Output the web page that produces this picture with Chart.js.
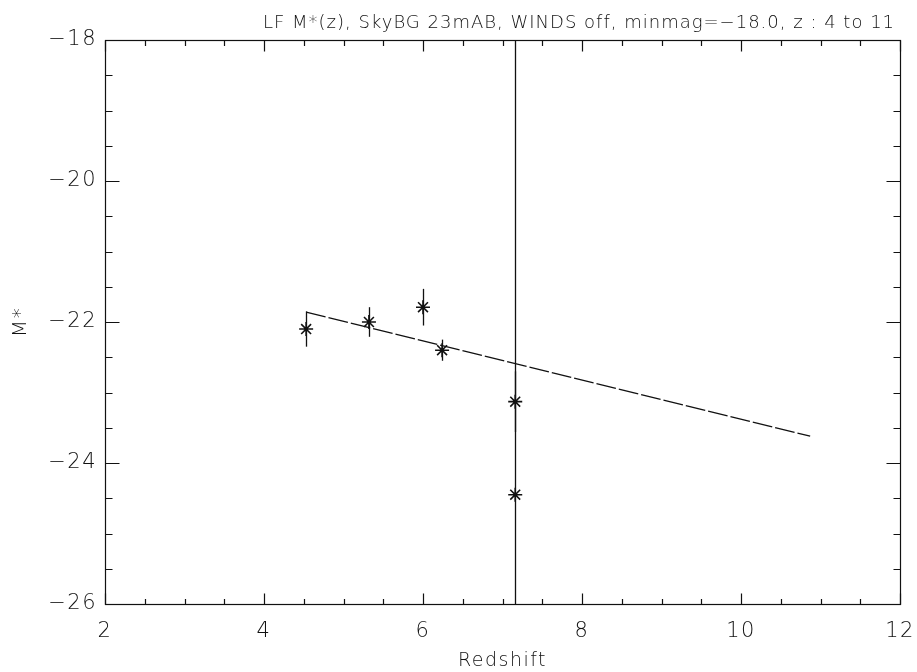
<!DOCTYPE html>
<html>
<head>
<meta charset="utf-8">
<title>LF M*(z)</title>
<script src="https://cdn.jsdelivr.net/npm/chart.js@4.4.0/dist/chart.umd.min.js"></script>
<style>
  body { margin: 0; background: #fff; }
  #wrap { width: 917px; height: 672px; }
</style>
</head>
<body>
<div id="wrap"><canvas id="lfChart"></canvas></div>
<script>
// M* per redshift bin, with 1-sigma errors
const redshift = [4.53, 5.32, 6.00, 6.24, 7.16, 7.16];
const mStar = [-22.10, -22.00, -21.79, -22.40, -23.13, -24.45];
const mStarErr = [0.25, 0.21, 0.26, 0.15, 0.43, 8.0];

// linear fit of M*(z)
const fitZ = [4.53, 10.87];
const fitM = [-21.86, -23.62];

const xTicks = [2, 4, 6, 8, 10, 12];
const yTicks = [-26, -24, -22, -20, -18];

const titleText = 'LF M*(z), SkyBG 23mAB, WINDS off, minmag=\u221218.0, z : 4 to 11';
const FONT = "'DejaVu Sans', sans-serif";
const INK = '#111';

// wide, thin lettering for every label
const spacing = {
    id: 'spacing',
    beforeUpdate(chart) { chart.ctx.letterSpacing = '1.5px'; },
    beforeDraw(chart) { chart.ctx.letterSpacing = '1.5px'; }
};

// vertical error bars, clipped to the plot box
const errorBars = {
    id: 'errorBars',
    afterDatasetsDraw(chart) {
        const ctx = chart.ctx;
        const xs = chart.scales.x, ys = chart.scales.y;
        const area = chart.chartArea;
        ctx.save();
        ctx.beginPath();
        ctx.rect(area.left, area.top, area.right - area.left, area.bottom - area.top);
        ctx.clip();
        ctx.strokeStyle = INK;
        ctx.lineWidth = 1.3;
        for (let i = 0; i < redshift.length; i++) {
            const px = Math.round(xs.getPixelForValue(redshift[i])) + 0.5;
            ctx.beginPath();
            ctx.moveTo(px, ys.getPixelForValue(mStar[i] + mStarErr[i]));
            ctx.lineTo(px, ys.getPixelForValue(mStar[i] - mStarErr[i]));
            ctx.stroke();
        }
        ctx.restore();
    }
};

// closed box with inward ticks on all four sides, plus the title
const boxFrame = {
    id: 'boxFrame',
    afterDraw(chart) {
        const ctx = chart.ctx;
        const xs = chart.scales.x, ys = chart.scales.y;
        const a = chart.chartArea;
        const L = Math.round(a.left) + 0.5, R = Math.round(a.right) + 0.5;
        const T = Math.round(a.top) + 0.5, B = Math.round(a.bottom) + 0.5;
        ctx.save();
        ctx.strokeStyle = INK;
        ctx.lineWidth = 1.2;
        ctx.strokeRect(L, T, R - L, B - T);
        ctx.beginPath();
        for (let v = 2; v <= 12.001; v += 0.5) {
            const px = Math.round(xs.getPixelForValue(v)) + 0.5;
            const len = Math.abs(v % 2) < 1e-6 ? 11 : 5.5;
            ctx.moveTo(px, B); ctx.lineTo(px, B - len);
            ctx.moveTo(px, T); ctx.lineTo(px, T + len);
        }
        for (let v = -26; v <= -17.999; v += 0.5) {
            const py = Math.round(ys.getPixelForValue(v)) + 0.5;
            const len = Math.abs(v % 2) < 1e-6 ? 14 : 7;
            ctx.moveTo(L, py); ctx.lineTo(L + len, py);
            ctx.moveTo(R, py); ctx.lineTo(R - len, py);
        }
        ctx.stroke();

        ctx.fillStyle = INK;
        ctx.font = '200 18px ' + FONT;
        ctx.letterSpacing = '1px';
        ctx.textAlign = 'center';
        ctx.textBaseline = 'alphabetic';
        ctx.fillText(titleText, 579, 28);
        ctx.restore();
    }
};

const ctx = document.getElementById('lfChart').getContext('2d');

new Chart(ctx, {
    type: 'scatter',
    data: {
        datasets: [
            {
                label: 'M*',
                data: redshift.map((z, i) => ({ x: z, y: mStar[i] })),
                pointStyle: 'star',
                pointRadius: 7,
                borderColor: INK,
                backgroundColor: INK,
                borderWidth: 1.6,
                showLine: false
            },
            {
                label: 'fit',
                data: fitZ.map((z, i) => ({ x: z, y: fitM[i] })),
                showLine: true,
                borderColor: INK,
                borderWidth: 1.3,
                borderDash: [20, 3],
                pointRadius: 0,
                fill: false
            }
        ]
    },
    options: {
        responsive: true,
        maintainAspectRatio: false,
        animation: false,
        layout: { padding: { top: 40, right: 17, left: 0, bottom: 0 } },
        plugins: {
            legend: { display: false },
            tooltip: { enabled: false }
        },
        scales: {
            x: {
                type: 'linear',
                min: 2,
                max: 12,
                afterBuildTicks: s => { s.ticks = xTicks.map(v => ({ value: v })); },
                afterFit: s => {
                    s.height = 68;
                    s.paddingLeft = 0;
                    s.paddingRight = 0;
                },
                grid: { display: false },
                border: { display: false },
                ticks: {
                    color: INK,
                    font: { family: FONT, size: 21, weight: 200 },
                    padding: 7,
                    maxRotation: 0
                },
                title: {
                    display: true,
                    text: 'Redshift',
                    color: INK,
                    font: { family: FONT, size: 19, weight: 200 },
                    padding: { top: 0, bottom: 0 }
                }
            },
            y: {
                type: 'linear',
                min: -26,
                max: -18,
                afterBuildTicks: s => { s.ticks = yTicks.map(v => ({ value: v })); },
                afterFit: s => { s.width = 105; },
                grid: { display: false },
                border: { display: false },
                ticks: {
                    color: INK,
                    font: { family: FONT, size: 21, weight: 200 },
                    padding: 0,
                    callback: v => String(v).replace('-', '\u2212')
                },
                title: {
                    display: true,
                    text: 'M*',
                    color: INK,
                    font: { family: FONT, size: 20, weight: 200 },
                    padding: { top: 9, bottom: 9 }
                }
            }
        }
    },
    plugins: [spacing, errorBars, boxFrame]
});
</script>
</body>
</html>
